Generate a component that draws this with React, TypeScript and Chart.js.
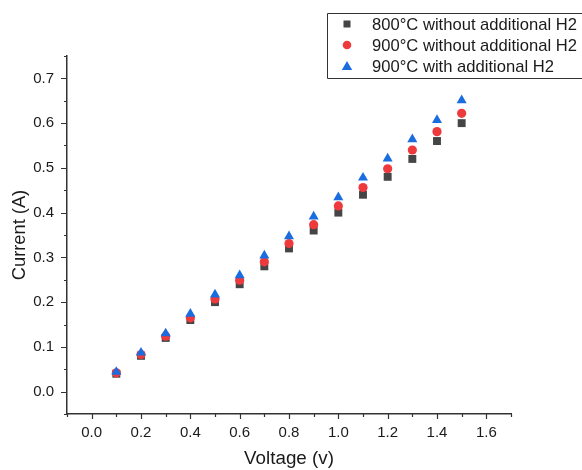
import { useEffect, useRef } from "react";
import { Chart, registerables } from "chart.js";

Chart.register(...registerables);

// Measured current at each applied voltage
const voltage = [0.1, 0.2, 0.3, 0.4, 0.5, 0.6, 0.7, 0.8, 0.9, 1.0, 1.1, 1.2, 1.3, 1.4, 1.5];
const current800 = [0.04, 0.08, 0.12, 0.16, 0.2, 0.24, 0.28, 0.32, 0.36, 0.4, 0.44, 0.48, 0.52, 0.56, 0.6];
const current900 = [0.042, 0.083, 0.124, 0.165, 0.207, 0.249, 0.29, 0.331, 0.373, 0.415, 0.456, 0.498, 0.54, 0.581, 0.622];
const current900H2 = [0.044, 0.087, 0.13, 0.174, 0.217, 0.26, 0.304, 0.347, 0.391, 0.434, 0.478, 0.521, 0.564, 0.607, 0.651];

const seriesLabels = [
  "800°C without additional H2",
  "900°C without additional H2",
  "900°C with additional H2",
];

const xTickValues = [0, 0.2, 0.4, 0.6, 0.8, 1.0, 1.2, 1.4, 1.6];
const yTickValues = [0, 0.1, 0.2, 0.3, 0.4, 0.5, 0.6, 0.7];

const FONT = "'Liberation Sans', Arial, sans-serif";
const AXIS = "#333333";
const TEXT = "#1a1a1a";
const GRAY = "#454545";
const RED = "#ee3a3d";
const BLUE = "#1b6ddf";

// Outward major/minor tick marks along the left and bottom axes
const tickMarks = {
  id: "tickMarks",
  afterDraw(chart: any) {
    const { ctx, scales, chartArea } = chart;
    const xs = scales.x;
    const ys = scales.y;
    ctx.save();
    ctx.strokeStyle = AXIS;
    ctx.lineWidth = 1.2;
    ctx.beginPath();
    for (let i = 0; i <= 18; i++) {
      const v = -0.1 + i * 0.1;
      const px = Math.round(xs.getPixelForValue(v)) + 0.5;
      const len = i % 2 === 1 ? 5 : 3;
      ctx.moveTo(px, chartArea.bottom);
      ctx.lineTo(px, chartArea.bottom + len);
    }
    for (let i = 0; i <= 16; i++) {
      const v = -0.05 + i * 0.05;
      const py = Math.round(ys.getPixelForValue(v)) + 0.5;
      const len = i % 2 === 1 ? 6 : 3;
      ctx.moveTo(chartArea.left, py);
      ctx.lineTo(chartArea.left - len, py);
    }
    ctx.stroke();
    ctx.restore();
  },
};

// Boxed legend in the top-right corner, open on the right edge
const boxLegend = {
  id: "boxLegend",
  afterDraw(chart: any) {
    const { ctx } = chart;
    ctx.save();
    ctx.strokeStyle = AXIS;
    ctx.lineWidth = 1;
    ctx.beginPath();
    ctx.moveTo(327.5, 13.5);
    ctx.lineTo(582, 13.5);
    ctx.moveTo(327.5, 13.5);
    ctx.lineTo(327.5, 78.5);
    ctx.lineTo(582, 78.5);
    ctx.stroke();
    const rows = [24, 45, 66];
    const mx = 347;
    // square
    ctx.fillStyle = GRAY;
    ctx.fillRect(mx - 3.5, rows[0] - 3.5, 7, 7);
    // circle
    ctx.fillStyle = RED;
    ctx.beginPath();
    ctx.arc(mx, rows[1], 4.3, 0, Math.PI * 2);
    ctx.fill();
    // triangle
    ctx.fillStyle = BLUE;
    ctx.beginPath();
    ctx.moveTo(mx, rows[2] - 5);
    ctx.lineTo(mx + 5.2, rows[2] + 4);
    ctx.lineTo(mx - 5.2, rows[2] + 4);
    ctx.closePath();
    ctx.fill();
    ctx.fillStyle = TEXT;
    ctx.font = `16.6px ${FONT}`;
    ctx.textBaseline = "middle";
    ctx.textAlign = "left";
    seriesLabels.forEach((t, i) => ctx.fillText(t, 372, rows[i] + 1));
    ctx.restore();
  },
};

export default function App() {
  const canvasRef = useRef<HTMLCanvasElement | null>(null);

  useEffect(() => {
    document.body.style.margin = "0";
    document.body.style.overflow = "hidden";
    const canvas = canvasRef.current;
    if (!canvas) return;

    const toPoints = (ys: number[]) => voltage.map((v, i) => ({ x: v, y: ys[i] }));

    const chart = new Chart(canvas, {
      type: "scatter",
      data: {
        datasets: [
          {
            label: seriesLabels[0],
            data: toPoints(current800),
            pointStyle: "rect",
            pointRadius: 5.6,
            pointBorderWidth: 0,
            backgroundColor: GRAY,
            borderColor: GRAY,
            order: 3,
          },
          {
            label: seriesLabels[1],
            data: toPoints(current900),
            pointStyle: "circle",
            pointRadius: 4.6,
            pointBorderWidth: 0,
            backgroundColor: RED,
            borderColor: RED,
            order: 2,
          },
          {
            label: seriesLabels[2],
            data: toPoints(current900H2),
            pointStyle: "triangle",
            pointRadius: 5.8,
            pointBorderWidth: 0,
            backgroundColor: BLUE,
            borderColor: BLUE,
            order: 1,
          },
        ],
      },
      options: {
        responsive: false,
        animation: false,
        devicePixelRatio: 1,
        layout: { padding: { top: 56, right: 71, left: 0, bottom: 0 } },
        plugins: {
          legend: { display: false },
          tooltip: { enabled: false },
        },
        scales: {
          x: {
            type: "linear",
            min: -0.1,
            max: 1.7,
            afterBuildTicks: (s: any) => {
              s.ticks = xTickValues.map((v) => ({ value: v }));
            },
            afterFit: (s: any) => {
              s.height = 56;
            },
            grid: { display: true, drawOnChartArea: false, drawTicks: false },
            border: { display: true, color: AXIS, width: 1.5 },
            ticks: {
              padding: 10,
              color: TEXT,
              font: { family: FONT, size: 15 },
              maxRotation: 0,
              callback: (v: any) => Number(v).toFixed(1),
            },
            title: {
              display: true,
              text: "Voltage (v)",
              color: TEXT,
              font: { family: FONT, size: 18.8 },
              padding: { top: 0, bottom: 0 },
            },
          },
          y: {
            type: "linear",
            min: -0.05,
            max: 0.75,
            afterBuildTicks: (s: any) => {
              s.ticks = yTickValues.map((v) => ({ value: v }));
            },
            afterFit: (s: any) => {
              s.width = 67;
            },
            grid: { display: true, drawOnChartArea: false, drawTicks: false },
            border: { display: true, color: AXIS, width: 1.5 },
            ticks: {
              padding: 13,
              color: TEXT,
              font: { family: FONT, size: 15 },
              callback: (v: any) => Number(v).toFixed(1),
            },
            title: {
              display: true,
              text: "Current (A)",
              color: TEXT,
              font: { family: FONT, size: 18.3 },
              padding: { top: 9, bottom: 0 },
            },
          },
        },
      },
      plugins: [tickMarks, boxLegend],
    });

    return () => chart.destroy();
  }, []);

  return <canvas ref={canvasRef} width={582} height={470} style={{ display: "block" }} />;
}
